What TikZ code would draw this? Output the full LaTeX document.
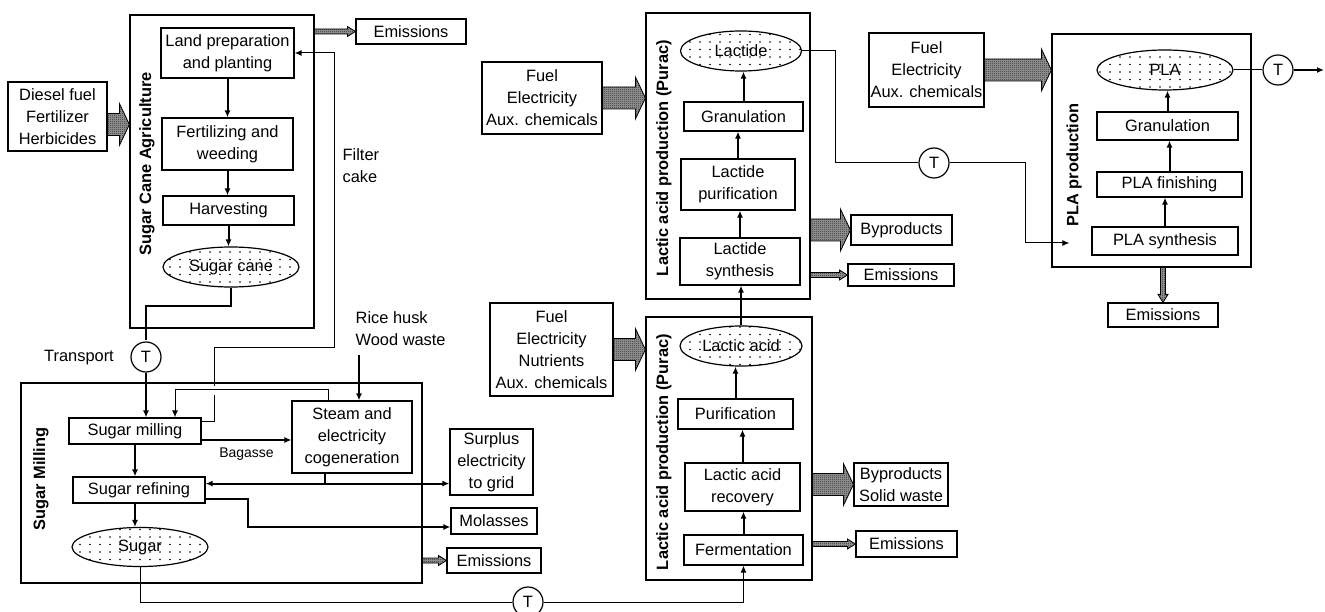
\documentclass[tikz,border=0pt]{standalone}
\usepackage{fontspec}
\setmainfont{Liberation Sans}
\usetikzlibrary{shapes.geometric,patterns.meta,calc,arrows.meta}

\tikzdeclarepattern{
  name=stipple,
  type=uncolored,
  bottom left={(-1pt,-1pt)},
  top right={(1pt,1pt)},
  tile size={(10pt,7.5pt)},
  code={\fill (0pt,0pt) circle [radius=0.8pt];}
}
\tikzdeclarepattern{
  name=checker,
  type=uncolored,
  bottom left={(0pt,0pt)},
  top right={(2pt,2pt)},
  tile size={(2pt,2pt)},
  code={\fill (0pt,0pt) rectangle (1pt,1pt); \fill (1pt,1pt) rectangle (2pt,2pt);}
}

\newcommand{\flowarrow}[5]{%
  \draw[line width=0.8pt, preaction={fill=gray!75}, pattern=checker] let \p1=#1, \p2=#2 in
    (\x1,\y1+#3) -- (\x2-#5,\y1+#3) -- (\x2-#5,\y1+#4) -- (\x2,\y1)
    -- (\x2-#5,\y1-#4) -- (\x2-#5,\y1-#3) -- (\x1,\y1-#3) -- cycle;}
\newcommand{\bigflow}[2]{\flowarrow{#1}{#2}{11pt}{21pt}{10pt}}
\newcommand{\smallflow}[2]{\flowarrow{#1}{#2}{2.5pt}{5pt}{8pt}}

\begin{document}
\fontsize{16.4}{22}\selectfont
\begin{tikzpicture}[x=1pt, y=-1pt,
  box/.style={draw, line width=1.2pt, inner sep=0pt, align=center},
  group/.style={draw, line width=1.2pt, inner sep=0pt},
  stage/.style={ellipse, draw, line width=1.2pt, inner sep=0pt, pattern=stipple},
  tnode/.style={circle, draw, line width=1.2pt, minimum size=30pt, inner sep=0pt},
  pipe/.style={line width=2pt},
  arr/.style={line width=2pt, -{Latex[length=7pt,width=6pt]}},
  link/.style={line width=1pt},
  linkarr/.style={line width=1pt, -{Latex[length=7pt,width=6pt]}}]
\useasboundingbox (0,0) rectangle (1325,612);

\node (agri) at (222,171.5) [group, minimum width=184pt, minimum height=313pt] {};
\node (agrititle) at (147,164) [rotate=90, font=\bfseries] {Sugar Cane Agriculture};
\node (diesel) at (57.5,116.5) [box, minimum width=99pt, minimum height=69pt] {Diesel fuel\\Fertilizer\\Herbicides};
\node (land) at (227.5,53) [box, minimum width=133pt, minimum height=50pt] {Land preparation\\and planting};
\node (fert) at (227.5,144) [box, minimum width=131pt, minimum height=52pt] {Fertilizing and\\weeding};
\node (harv) at (228.5,210.5) [box, minimum width=131pt, minimum height=29pt] {Harvesting};
\node (cane) at (231,267) [stage, minimum width=136pt, minimum height=40pt] {Sugar cane};
\node (emis1) at (411,31.5) [box, minimum width=110pt, minimum height=25pt] {Emissions};
\node (filter) at (337,166) [anchor=west, align=left] {Filter\\cake};
\node (tr1) at (146,357) [tnode] {T};
\node (transport) at (79,358) {Transport};

\node (mill) at (221.5,483) [group, minimum width=401pt, minimum height=200pt] {};
\node (milltitle) at (41,479) [rotate=90, font=\bfseries] {Sugar Milling};
\node (smill) at (135,431) [box, minimum width=132pt, minimum height=26pt] {Sugar milling};
\node (refin) at (139,490) [box, minimum width=132pt, minimum height=26pt] {Sugar refining};
\node (sugar) at (140,547) [stage, minimum width=136pt, minimum height=39pt] {Sugar};
\node (steam) at (352,437) [box, minimum width=120pt, minimum height=72pt] {Steam and\\electricity\\cogeneration};
\node (rice) at (350,329) [anchor=west, align=left] {Rice husk\\Wood waste};
\node (surplus) at (491.5,462) [box, minimum width=83pt, minimum height=66pt] {Surplus\\electricity\\to grid};
\node (molas) at (494,521) [box, minimum width=86pt, minimum height=26pt] {Molasses};
\node (emis2) at (494,560.5) [box, minimum width=94pt, minimum height=25pt] {Emissions};
\node (tr2) at (528,602) [tnode] {T};

\node (lac) at (729,448.5) [group, minimum width=166pt, minimum height=263pt] {};
\node (lactitle) at (664,452) [rotate=90, font=\bfseries] {Lactic acid production (Purac)};
\node (fuel2) at (551.5,349.5) [box, minimum width=123pt, minimum height=93pt] {Fuel\\Electricity\\Nutrients\\Aux. chemicals};
\node (lacacid) at (741,346) [stage, minimum width=122pt, minimum height=40pt] {Lactic acid};
\node (purif) at (735.5,414) [box, minimum width=115pt, minimum height=30pt] {Purification};
\node (recov) at (742.5,487) [box, minimum width=115pt, minimum height=48pt] {Lactic acid\\recovery};
\node (ferm) at (743.5,550) [box, minimum width=119pt, minimum height=30pt] {Fermentation};
\node (byp2) at (901,484.5) [box, minimum width=94pt, minimum height=43pt] {Byproducts\\Solid waste};
\node (emis3) at (906.5,544) [box, minimum width=101pt, minimum height=26pt] {Emissions};

\node (lcd) at (728,156) [group, minimum width=164pt, minimum height=286pt] {};
\node (lcdtitle) at (664,158) [rotate=90, font=\bfseries] {Lactic acid production (Purac)};
\node (fuel1) at (542,98) [box, minimum width=120pt, minimum height=72pt] {Fuel\\Electricity\\Aux. chemicals};
\node (lactide) at (741,51) [stage, minimum width=121pt, minimum height=40pt] {Lactide};
\node (gran1) at (743.5,116.5) [box, minimum width=119pt, minimum height=29pt] {Granulation};
\node (lpur) at (738,184.5) [box, minimum width=114pt, minimum height=51pt] {Lactide\\purification};
\node (lsyn) at (740,261.5) [box, minimum width=120pt, minimum height=47pt] {Lactide\\synthesis};
\node (byp1) at (901.5,230) [box, minimum width=101pt, minimum height=30pt] {Byproducts};
\node (emis4) at (901,275) [box, minimum width=106pt, minimum height=22pt] {Emissions};
\node (tr3) at (934,163) [tnode] {T};

\node (pla) at (1151.5,150.5) [group, minimum width=199pt, minimum height=233pt] {};
\node (platitle) at (1074,165) [rotate=90, font=\bfseries] {PLA production};
\node (fuel3) at (926.5,70) [box, minimum width=115pt, minimum height=74pt] {Fuel\\Electricity\\Aux. chemicals};
\node (plaell) at (1165,70) [stage, minimum width=136pt, minimum height=40pt] {PLA};
\node (gran2) at (1167.5,126) [box, minimum width=141pt, minimum height=28pt] {Granulation};
\node (plafin) at (1169.5,184.5) [box, minimum width=145pt, minimum height=25pt] {PLA finishing};
\node (plasyn) at (1165,241) [box, minimum width=146pt, minimum height=28pt] {PLA synthesis};
\node (emis5) at (1163,315) [box, minimum width=110pt, minimum height=24pt] {Emissions};
\node (tr4) at (1278,70) [tnode] {T};
\coordinate (plaend) at (1324,70);

\draw[arr] (land.south) -- (land.south |- fert.north);
\draw[arr] (fert.south) -- (fert.south |- harv.north);
\draw[arr] (harv.south) -- (harv.south |- cane.north);
\draw[pipe] (cane.south) -- ++(0,18) -| ([yshift=1pt]tr1.north);
\draw[arr] (tr1.south) -- (tr1.south |- smill.north);
\draw[linkarr] ([yshift=-4pt]smill.north east) -| (214,347) -| (334,53) -- (land.east);
\fill[white] (210,385.5) rectangle (218,395);
\draw[linkarr] ([xshift=-24pt]steam.north) -- ++(0,-11) -| ([xshift=40pt]smill.north);
\path ([xshift=9pt,yshift=-3pt]rice.south west) coordinate (r1);
\draw[arr] (r1) -- (r1 |- steam.north);
\draw[arr] ([yshift=-9pt]smill.east) coordinate (b1) -- (b1 -| steam.west)
  node[midway, below=1pt, font=\fontsize{14}{16}\selectfont] {Bagasse};
\draw[arr] (smill.south) -- (smill.south |- refin.north);
\draw[arr] (smill.south |- refin.south) -- (smill.south |- sugar.north);
\draw[pipe] ([xshift=-27pt]steam.south) -- ++(0,10) coordinate (j1);
\draw[arr] (j1) -- (j1 -| refin.east);
\draw[arr] (j1) -- (j1 -| surplus.west);
\draw[arr] ([yshift=-9pt]refin.east) -- ++(42,0) |- ([yshift=-6pt]molas.west);
\draw[link] (sugar.south) |- (tr2.west);
\draw[linkarr] (tr2.east) -| (ferm.south);

\draw[arr] (ferm.north) -- (ferm.north |- recov.south);
\draw[arr] (recov.north) -- (recov.north |- purif.south);
\draw[arr] (purif.north) -- (purif.north |- lacacid.south);
\draw[arr] (lacacid.north) -- (lacacid.north |- lsyn.south);
\draw[arr] (lsyn.north) -- (lsyn.north |- lpur.south);
\draw[arr] (lpur.north) -- (lpur.north |- gran1.south);
\draw[arr] (gran1.north) -- (gran1.north |- lactide.south);
\draw[link] (lactide.east) -- ++(33,0) |- (tr3.west);
\draw[linkarr] (tr3.east) -- ++(76,0) |- ($(pla.west |- plasyn)+(18,2)$);

\draw[arr] (plasyn.north) -- (plasyn.north |- plafin.south);
\draw[arr] (plafin.north) -- (plafin.north |- gran2.south);
\draw[arr] (gran2.north) -- (gran2.north |- plaell.south);
\draw[link] (plaell.east) -- (tr4.west);
\draw[arr] (tr4.east) -- (plaend);

\bigflow{([yshift=-8pt]diesel.east)}{(agri.west)}
\bigflow{(fuel1.east)}{(lcd.west)}
\bigflow{(fuel2.east)}{(lac.west)}
\bigflow{(fuel3.east)}{(pla.west)}
\bigflow{(lcd.east |- byp1.west)}{(byp1.west)}
\bigflow{(lac.east |- byp2.west)}{(byp2.west)}
\smallflow{(agri.east |- emis1.west)}{(emis1.west)}
\smallflow{(mill.east |- emis2.west)}{(emis2.west)}
\smallflow{(lcd.east |- emis4.west)}{(emis4.west)}
\smallflow{(lac.east |- emis3.west)}{(emis3.west)}
\draw[line width=0.8pt, preaction={fill=gray!75}, pattern=checker] let \p1=(emis5.north |- pla.south), \p2=(emis5.north) in
  (\x1-2.5pt,\y1) -- (\x1-2.5pt,\y2+8pt) -- (\x1-5pt,\y2+8pt) -- (\x1,\y2)
  -- (\x1+5pt,\y2+8pt) -- (\x1+2.5pt,\y2+8pt) -- (\x1+2.5pt,\y1) -- cycle;
\end{tikzpicture}
\end{document}
